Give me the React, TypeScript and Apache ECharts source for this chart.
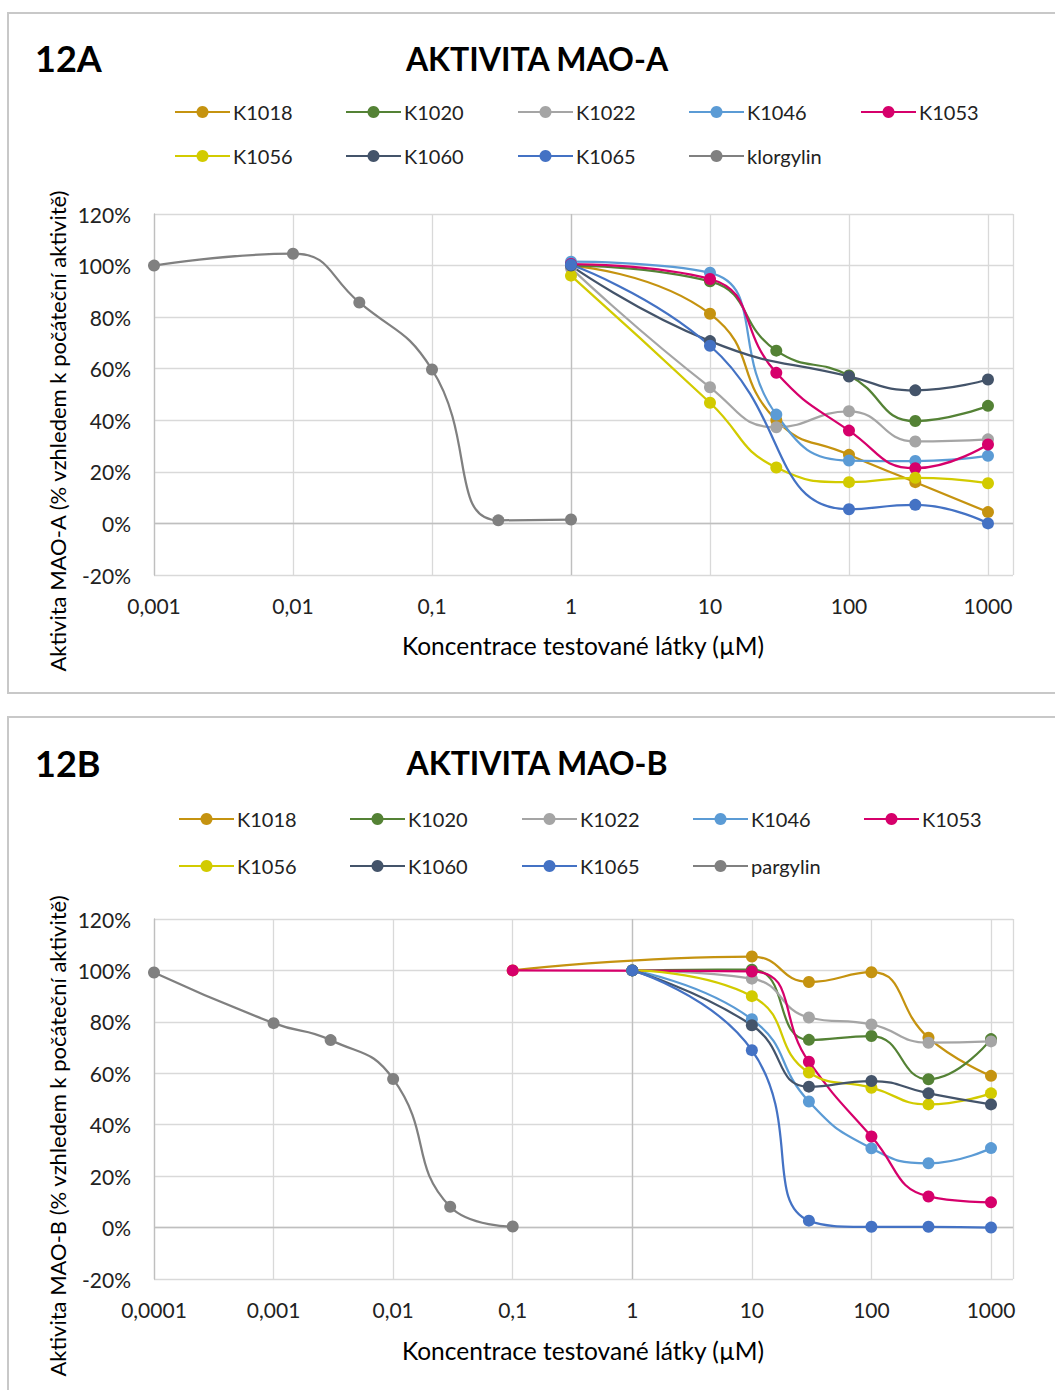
import React, { useEffect, useRef } from 'react';
import * as echarts from 'echarts';

// ---------- data ----------
const compoundNames = ['K1018', 'K1020', 'K1022', 'K1046', 'K1053', 'K1056', 'K1060', 'K1065'];
const compoundColors = ['#C59310', '#548235', '#A5A5A5', '#5B9BD5', '#D6006B', '#D2CB00', '#44546A', '#4472C4'];
const refColor = '#808080';

// Chart 12A (MAO-A)
const concA = [1, 10, 30, 100, 300, 1000];
const A_K1018 = [100, 81.3, 40, 26.6, 16, 4.4];
const A_K1020 = [100, 93.9, 67, 57.4, 39.7, 45.6];
const A_K1022 = [99, 52.8, 37.3, 43.5, 31.8, 32.6];
const A_K1046 = [101.5, 97.2, 42.2, 24.4, 24.2, 26.2];
const A_K1053 = [100.6, 94.8, 58.4, 36, 21.4, 30.6];
const A_K1056 = [96.1, 46.8, 21.7, 16, 17.7, 15.6];
const A_K1060 = [100, 70.7, null, 57, 51.6, 55.8];
const A_K1065 = [100.3, 68.9, null, 5.5, 7.2, 0];
const refNameA = 'klorgylin';
const concRefA = [0.001, 0.01, 0.03, 0.1, 0.3, 1];
const valRefA = [100, 104.6, 85.7, 59.7, 1.2, 1.5];

// Chart 12B (MAO-B)
const concB = [0.1, 1, 10, 30, 100, 300, 1000];
const B_K1018 = [100, null, 105.4, 95.5, 99.3, 73.8, 59];
const B_K1020 = [null, 100, 100.3, 73, 74.5, 57.7, 73.3];
const B_K1022 = [null, 100, 96.8, 81.7, 79, 71.9, 72.4];
const B_K1046 = [null, 100, 81, 49, 30.8, 25, 30.9];
const B_K1053 = [100, null, 99.6, 64.5, 35.4, 12.1, 9.8];
const B_K1056 = [null, 100, 90, 60.3, 54.4, 47.9, 52.2];
const B_K1060 = [null, 100, 78.7, 54.8, 57, 52.2, 47.9];
const B_K1065 = [null, 100, 69, 2.7, 0.3, 0.3, 0];
const refNameB = 'pargylin';
const concRefB = [0.0001, 0.001, 0.003, 0.01, 0.03, 0.1];
const valRefB = [99.2, 79.5, 72.9, 57.8, 8.1, 0.4];

// axis ticks
const xTickLabelsA = ['0,001', '0,01', '0,1', '1', '10', '100', '1000'];
const xTickLabelsB = ['0,0001', '0,001', '0,01', '0,1', '1', '10', '100', '1000'];
const yMin = -20;
const yMax = 120;
const yStep = 20;

const titleA = 'AKTIVITA MAO-A';
const titleB = 'AKTIVITA MAO-B';
const tagA = '12A';
const tagB = '12B';
const xTitle = 'Koncentrace testované látky (µM)';
const yTitleA = 'Aktivita MAO-A (% vzhledem k počáteční aktivitě)';
const yTitleB = 'Aktivita MAO-B (% vzhledem k počáteční aktivitě)';

const FONT = 'Lato, "Open Sans", sans-serif';
const TXT = '#222222';

function buildData(conc: number[], vals: (number | null)[]) {
  const out: number[][] = [];
  conc.forEach((c, i) => {
    const v = vals[i];
    if (v !== null && v !== undefined) out.push([Math.log10(c), v]);
  });
  return out;
}

function lineSeries(name: string, color: string, conc: number[], vals: (number | null)[], gi: number) {
  return {
    type: 'line',
    name,
    xAxisIndex: gi,
    yAxisIndex: gi,
    data: buildData(conc, vals),
    smooth: 0.5,
    symbol: 'circle',
    symbolSize: 12,
    showSymbol: true,
    z: 3,
    lineStyle: { color, width: 2.25 },
    itemStyle: { color },
    emphasis: { disabled: true },
  };
}

function axisMarks(gi: number) {
  return {
    type: 'line',
    xAxisIndex: gi,
    yAxisIndex: gi,
    data: [[0, 0]],
    showSymbol: false,
    symbol: 'none',
    lineStyle: { opacity: 0 },
    z: 1,
    silent: true,
    markLine: {
      silent: true,
      z: 1,
      symbol: ['none', 'none'],
      label: { show: false },
      lineStyle: { color: '#BFBFBF', type: 'solid', width: 1.3 },
      emphasis: { disabled: true },
      data: [{ xAxis: 0 }, { yAxis: 0 }],
    },
  };
}

const App: React.FC = () => {
  const ref = useRef<HTMLDivElement>(null);

  useEffect(() => {
    if (!ref.current) return;
    const chart = echarts.init(ref.current, undefined, { renderer: 'svg' });

    const gridA = { left: 154, top: 214, width: 859, height: 361 };
    const gridB = { left: 154, top: 919, width: 859, height: 360 };

    const minA = -(xTickLabelsA.length - 4);
    const minB = -(xTickLabelsB.length - 4);

    const mkX = (gi: number, min: number, max: number, labels: string[], margin: number) => ({
      type: 'value',
      gridIndex: gi,
      min,
      max,
      interval: 1,
      axisLine: { show: false },
      axisTick: { show: false },
      splitLine: { show: true, lineStyle: { color: '#D9D9D9', width: 1.3 } },
      axisLabel: {
        margin,
        fontSize: 21,
        fontFamily: FONT,
        color: TXT,
        showMaxLabel: true,
        formatter: (v: number) => {
          const p = Math.round(v);
          if (Math.abs(v - p) > 1e-6) return '';
          const s = labels[p - min];
          return s === undefined ? '' : s;
        },
      },
    });

    const mkY = (gi: number) => ({
      type: 'value',
      gridIndex: gi,
      min: yMin,
      max: yMax,
      interval: yStep,
      axisLine: { show: true, onZero: false, lineStyle: { color: '#BFBFBF', width: 1.3 } },
      axisTick: { show: false },
      splitLine: { show: true, lineStyle: { color: '#D9D9D9', width: 1.3 } },
      axisLabel: {
        margin: 23,
        fontSize: 21,
        fontFamily: FONT,
        color: TXT,
        formatter: (v: number) => `${v}%`,
      },
    });

    const seriesA = [
      axisMarks(0),
      lineSeries(compoundNames[0], compoundColors[0], concA, A_K1018, 0),
      lineSeries(compoundNames[1], compoundColors[1], concA, A_K1020, 0),
      lineSeries(compoundNames[2], compoundColors[2], concA, A_K1022, 0),
      lineSeries(compoundNames[3], compoundColors[3], concA, A_K1046, 0),
      lineSeries(compoundNames[4], compoundColors[4], concA, A_K1053, 0),
      lineSeries(compoundNames[5], compoundColors[5], concA, A_K1056, 0),
      lineSeries(compoundNames[6], compoundColors[6], concA, A_K1060, 0),
      lineSeries(compoundNames[7], compoundColors[7], concA, A_K1065, 0),
      lineSeries(refNameA, refColor, concRefA, valRefA, 0),
    ];
    const seriesB = [
      axisMarks(1),
      lineSeries(compoundNames[0], compoundColors[0], concB, B_K1018, 1),
      lineSeries(compoundNames[1], compoundColors[1], concB, B_K1020, 1),
      lineSeries(compoundNames[2], compoundColors[2], concB, B_K1022, 1),
      lineSeries(compoundNames[3], compoundColors[3], concB, B_K1046, 1),
      lineSeries(compoundNames[4], compoundColors[4], concB, B_K1053, 1),
      lineSeries(compoundNames[5], compoundColors[5], concB, B_K1056, 1),
      lineSeries(compoundNames[6], compoundColors[6], concB, B_K1060, 1),
      lineSeries(compoundNames[7], compoundColors[7], concB, B_K1065, 1),
      lineSeries(refNameB, refColor, concRefB, valRefB, 1),
    ];

    const colsA = [174, 345, 517, 688, 860];
    const colsB = [178, 349, 521, 692, 863];
    const legends: any[] = [];
    const addLegends = (names: string[], cols: number[], rows: number[]) => {
      names.forEach((n, i) => {
        legends.push({
          data: [n],
          left: cols[i % 5],
          top: rows[Math.floor(i / 5)] - 11,
          padding: 0,
          itemWidth: 55,
          itemHeight: 15,
          itemGap: 0,
          selectedMode: false,
          textStyle: { fontSize: 20, fontFamily: FONT, color: TXT, lineHeight: 22, padding: [0, 0, 0, -2] },
        });
      });
    };
    addLegends([...compoundNames, refNameA], colsA, [112, 156]);
    addLegends([...compoundNames, refNameB], colsB, [819, 866]);

    const textEl = (text: string, x: number, y: number, size: number, bold: boolean, align: string, rotation = 0) => ({
      type: 'text',
      x,
      y,
      rotation,
      silent: true,
      style: {
        text,
        fill: '#000000',
        font: `${bold ? 'bold ' : ''}${size}px ${FONT}`,
        textAlign: align,
        textVerticalAlign: 'middle',
      },
    });

    const option: any = {
      animation: false,
      backgroundColor: '#FFFFFF',
      grid: [gridA, gridB],
      xAxis: [mkX(0, minA, 3.18, xTickLabelsA, 20), mkX(1, minB, 3.184, xTickLabelsB, 20)],
      yAxis: [mkY(0), mkY(1)],
      legend: legends,
      series: [...seriesA, ...seriesB],
      graphic: [
        { type: 'rect', silent: true, shape: { x: 8, y: 13, width: 1100, height: 680 }, style: { fill: 'none', stroke: '#C8C8C8', lineWidth: 2 } },
        { type: 'rect', silent: true, shape: { x: 8, y: 717, width: 1100, height: 720 }, style: { fill: 'none', stroke: '#C8C8C8', lineWidth: 2 } },
        textEl(tagA, 35, 58, 36, true, 'left'),
        textEl(titleA, 537, 58, 32, true, 'center'),
        textEl(tagB, 35, 763, 36, true, 'left'),
        textEl(titleB, 537, 762, 32, true, 'center'),
        textEl(xTitle, 583, 645, 24.5, false, 'center'),
        textEl(xTitle, 583, 1350, 24.5, false, 'center'),
        textEl(yTitleA, 57, 431, 22, false, 'center', Math.PI / 2),
        textEl(yTitleB, 57, 1136, 22, false, 'center', Math.PI / 2),
      ],
    };

    chart.setOption(option);
    return () => chart.dispose();
  }, []);

  return (
    <div
      ref={ref}
      style={{ position: 'absolute', left: 0, top: 0, width: 1055, height: 1390, background: '#fff' }}
    />
  );
};

export default App;
